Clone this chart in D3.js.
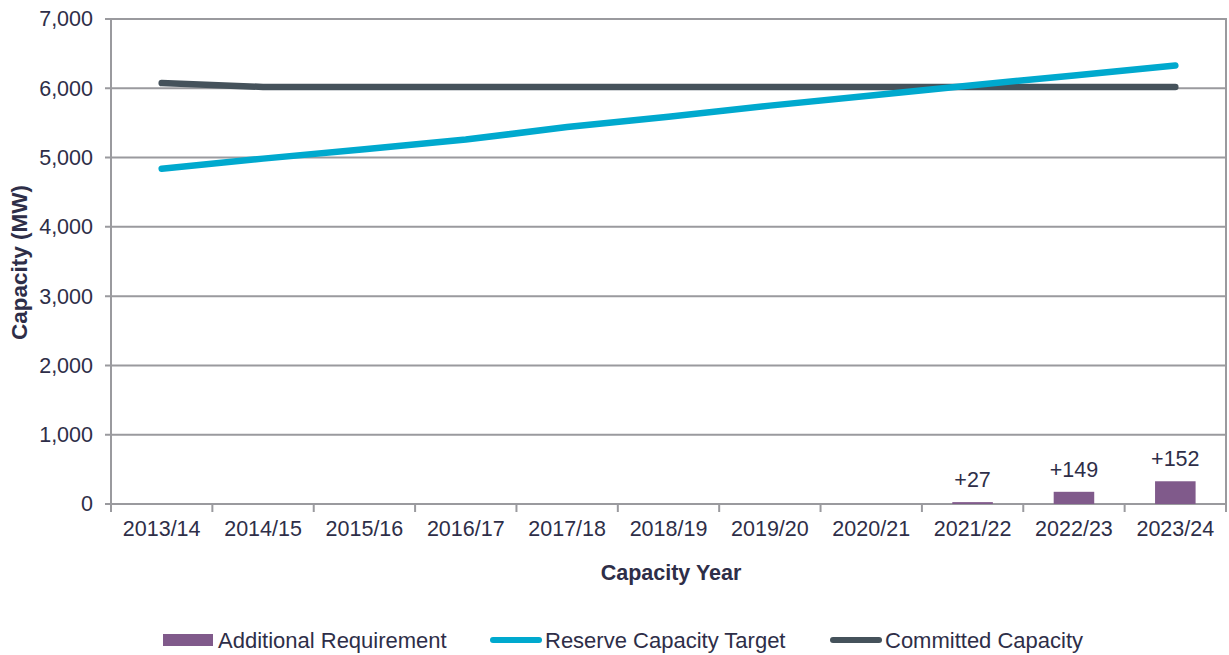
<!DOCTYPE html>
<html>
<head>
<meta charset="utf-8">
<script src="https://cdn.jsdelivr.net/npm/d3@7"></script>
<style>
  html, body { margin: 0; padding: 0; background: #ffffff; }
  svg { display: block; font-family: "Liberation Sans", Arial, sans-serif; }
</style>
</head>
<body>
<svg id="chart" width="1229" height="655"></svg>
<script>
// Capacity years on the horizontal axis
const years = ["2013/14", "2014/15", "2015/16", "2016/17", "2017/18", "2018/19",
               "2019/20", "2020/21", "2021/22", "2022/23", "2023/24"];

// Reserve Capacity Target (MW)
const reserveTarget = [4840, 4985, 5120, 5260, 5440, 5590, 5750, 5895, 6045, 6185, 6330];

// Committed Capacity (MW)
const committed = [6075, 6020, 6020, 6020, 6020, 6020, 6020, 6020, 6020, 6020, 6020];

// Yearly additional requirement (MW); bars show the running total
const additional = [null, null, null, null, null, null, null, null, 27, 149, 152];

const yTicks = [0, 1000, 2000, 3000, 4000, 5000, 6000, 7000];

const textColor = "#2e2e48";
const gridColor = "#9a9a9e";
const colReserve = "#00a9ce";
const colCommitted = "#45525b";
const colBar = "#805a8b";

const svg = d3.select("#chart");
const margin = { left: 111, right: 1226, top: 19, bottom: 504 };

const x = d3.scaleBand().domain(years).range([margin.left, margin.right]).padding(0);
const y = d3.scaleLinear().domain([0, 7000]).range([margin.bottom, margin.top]);

// cumulative additional requirement
let running = 0;
const barData = years.map((yr, i) => {
  if (additional[i] == null) return null;
  running += additional[i];
  return { year: yr, inc: additional[i], total: running };
}).filter(d => d);

// Gridlines
svg.append("g")
  .selectAll("line")
  .data(yTicks)
  .join("line")
  .attr("x1", margin.left - 6)
  .attr("x2", margin.right)
  .attr("y1", d => y(d))
  .attr("y2", d => y(d))
  .attr("stroke", gridColor)
  .attr("stroke-width", 2);

// Y axis labels
const yAxis = d3.axisLeft(y).tickValues(yTicks).tickFormat(d3.format(",")).tickSize(0).tickPadding(18);
const gy = svg.append("g").attr("transform", `translate(${margin.left},0)`).call(yAxis);
gy.select(".domain").remove();
gy.selectAll("text").attr("fill", textColor).attr("font-size", 21.5)
  .attr("font-family", "Liberation Sans, Arial, sans-serif");

// Left axis line and right frame line
svg.append("line").attr("x1", margin.left).attr("x2", margin.left)
  .attr("y1", margin.top - 1).attr("y2", margin.bottom + 8)
  .attr("stroke", gridColor).attr("stroke-width", 2);
svg.append("line").attr("x1", margin.right).attr("x2", margin.right)
  .attr("y1", margin.top - 1).attr("y2", margin.bottom + 8)
  .attr("stroke", gridColor).attr("stroke-width", 2);

// X axis category boundary ticks
svg.append("g").selectAll("line")
  .data(years.slice(1))
  .join("line")
  .attr("x1", d => x(d)).attr("x2", d => x(d))
  .attr("y1", margin.bottom).attr("y2", margin.bottom + 8)
  .attr("stroke", gridColor).attr("stroke-width", 2);

// X axis labels
const xAxis = d3.axisBottom(x).tickSize(0).tickPadding(17);
const gx = svg.append("g").attr("transform", `translate(0,${margin.bottom})`).call(xAxis);
gx.select(".domain").remove();
gx.selectAll("text").attr("fill", textColor).attr("font-size", 21.5)
  .attr("font-family", "Liberation Sans, Arial, sans-serif");

// Bars: cumulative additional requirement
const barW = x.bandwidth() * 0.4;
svg.append("g").selectAll("rect")
  .data(barData)
  .join("rect")
  .attr("x", d => x(d.year) + x.bandwidth() / 2 - barW / 2)
  .attr("width", barW)
  .attr("y", d => y(d.total))
  .attr("height", d => y(0) - y(d.total))
  .attr("fill", colBar);

// Bar labels: yearly increment
svg.append("g").selectAll("text")
  .data(barData)
  .join("text")
  .attr("x", d => x(d.year) + x.bandwidth() / 2)
  .attr("y", d => y(d.total) - 15)
  .attr("text-anchor", "middle")
  .attr("font-size", 21.5)
  .attr("fill", textColor)
  .text(d => "+" + d.inc);

// Lines
const line = d3.line()
  .x((d, i) => x(years[i]) + x.bandwidth() / 2)
  .y(d => y(d));

svg.append("path").datum(committed)
  .attr("d", line)
  .attr("fill", "none")
  .attr("stroke", colCommitted)
  .attr("stroke-width", 6.5)
  .attr("stroke-linecap", "round")
  .attr("stroke-linejoin", "round");

svg.append("path").datum(reserveTarget)
  .attr("d", line)
  .attr("fill", "none")
  .attr("stroke", colReserve)
  .attr("stroke-width", 6.5)
  .attr("stroke-linecap", "round")
  .attr("stroke-linejoin", "round");

// Axis titles
svg.append("text")
  .attr("transform", `translate(27,${(margin.top + margin.bottom) / 2 + 1}) rotate(-90)`)
  .attr("text-anchor", "middle")
  .attr("font-size", 22.5)
  .attr("font-weight", "bold")
  .attr("fill", textColor)
  .text("Capacity (MW)");

svg.append("text")
  .attr("x", 671)
  .attr("y", 580)
  .attr("text-anchor", "middle")
  .attr("font-size", 21.5)
  .attr("font-weight", "bold")
  .attr("fill", textColor)
  .text("Capacity Year");

// Legend
const legend = svg.append("g");
const legendY = 640;
const legendItems = [
  { label: "Additional Requirement", color: colBar, type: "rect", x: 163 },
  { label: "Reserve Capacity Target", color: colReserve, type: "line", x: 490 },
  { label: "Committed Capacity", color: colCommitted, type: "line", x: 830 }
];
legendItems.forEach(it => {
  if (it.type === "rect") {
    legend.append("rect").attr("x", it.x).attr("y", legendY - 6)
      .attr("width", 50).attr("height", 12).attr("fill", it.color);
  } else {
    legend.append("line").attr("x1", it.x + 3).attr("x2", it.x + 49)
      .attr("y1", legendY).attr("y2", legendY)
      .attr("stroke", it.color).attr("stroke-width", 6).attr("stroke-linecap", "round");
  }
  legend.append("text").attr("x", it.x + 55).attr("y", legendY + 8)
    .attr("font-size", 22).attr("fill", textColor).text(it.label);
});
</script>
</body>
</html>
